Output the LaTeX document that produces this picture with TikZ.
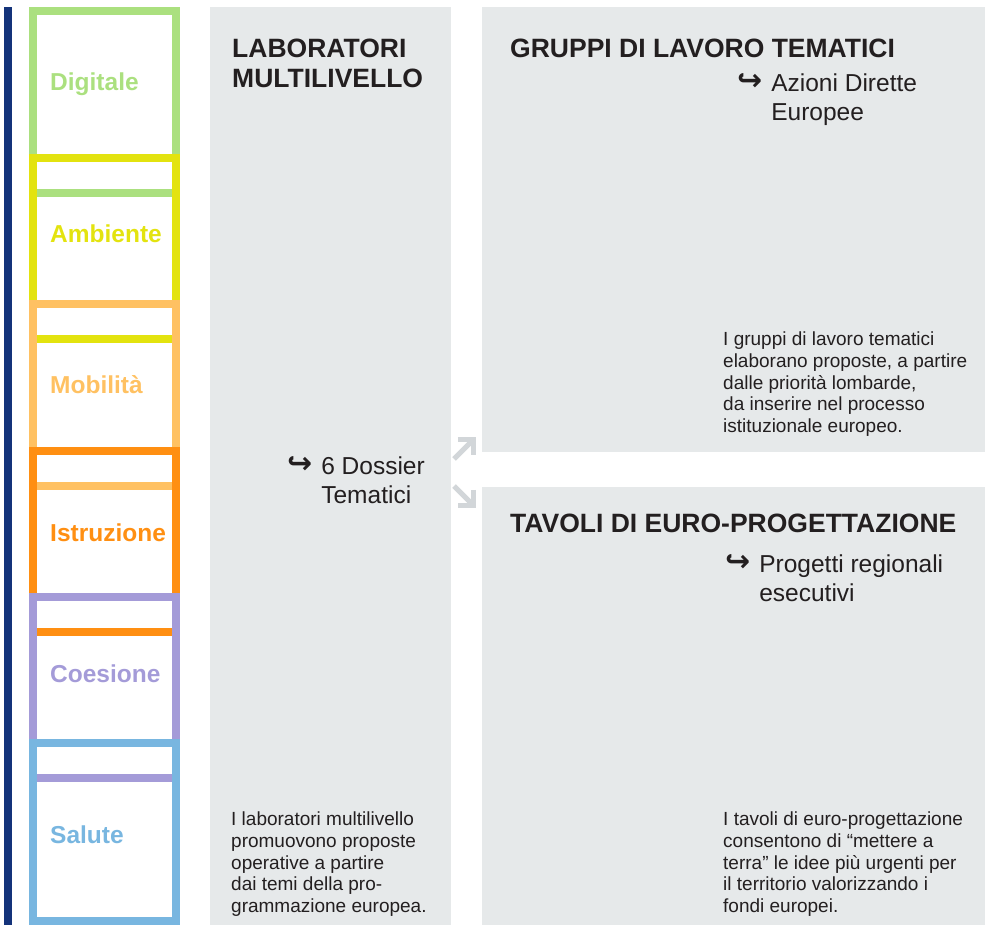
\documentclass[tikz,border=0pt]{standalone}
\usepackage{fontspec}
\setmainfont{Liberation Sans}
\newfontfamily\hookfont{DejaVu Sans}
\usetikzlibrary{arrows.meta}
\definecolor{navy}{HTML}{14337A}
\definecolor{panelgray}{HTML}{E6E9EA}
\definecolor{arrowgray}{HTML}{D2D6D9}
\definecolor{inkdark}{HTML}{231F20}
\definecolor{digitalegreen}{HTML}{ABE07F}
\definecolor{ambienteyellow}{HTML}{E3E30F}
\definecolor{mobilitaorange}{HTML}{FFC162}
\definecolor{istruzioneorange}{HTML}{FF8F12}
\definecolor{coesionepurple}{HTML}{A49BD8}
\definecolor{saluteblue}{HTML}{78B6E0}
\newcommand{\hook}{{\hookfont\bfseries\fontsize{30}{29}\selectfont\raisebox{1pt}{↪}}}

\begin{document}
\begin{tikzpicture}[x=1pt, y=-1pt,
  theme/.style={line width=8pt},
  theme label/.style={anchor=base west, inner sep=0pt, font=\fontsize{24.5}{24}\selectfont\bfseries},
  heading/.style={anchor=north west, inner sep=0pt, align=left, text=inkdark, font=\fontsize{26.5}{30}\selectfont\bfseries},
  outcome/.style={anchor=base west, inner sep=0pt, text=inkdark, font=\fontsize{24.5}{29}\selectfont},
  blurb/.style={anchor=north west, inner sep=0pt, align=left, text=inkdark, font=\fontsize{19}{21.6}\selectfont},
  flow/.style={arrowgray, line width=5pt, -{Straight Barb[length=11pt, width=22pt]}}]
  \useasboundingbox (0,0) rectangle (985,925);
  \fill[navy] (4,7) rectangle (12,925);
  \fill[panelgray] (210,7) rectangle (451,925);
  \fill[panelgray] (482,7) rectangle (985,452);
  \fill[panelgray] (482,487) rectangle (985,925);
  \draw[theme, digitalegreen] (33,11) rectangle (176,193);
  \draw[theme, ambienteyellow] (33,158) rectangle (176,339);
  \draw[theme, mobilitaorange] (33,304) rectangle (176,486);
  \draw[theme, istruzioneorange] (33,451) rectangle (176,632);
  \draw[theme, coesionepurple] (33,597) rectangle (176,778);
  \draw[theme, saluteblue] (33,743) rectangle (176,921);
  \node[theme label, text=digitalegreen] (digitale) at (50,91) {Digitale};
  \node[theme label, text=ambienteyellow] (ambiente) at (50,243) {Ambiente};
  \node[theme label, text=mobilitaorange] (mobilita) at (50,393) {Mobilità};
  \node[theme label, text=istruzioneorange] (istruzione) at (50,541) {Istruzione};
  \node[theme label, text=coesionepurple] (coesione) at (50,682) {Coesione};
  \node[theme label, text=saluteblue] (salute) at (50,843) {Salute};
  \node[heading] (laboratori) at (232,39) {LABORATORI\\MULTILIVELLO};
  \node[heading] (gruppi) at (510,39) {GRUPPI DI LAVORO TEMATICI};
  \node[heading] (tavoli) at (510,514) {TAVOLI DI EURO-PROGETTAZIONE};
  \node[outcome] (dossier) at (287,474) {\begin{tabular}[t]{@{}l@{\hspace{9pt}}l@{}}\hook & 6 Dossier\\ & Tematici\end{tabular}};
  \node[outcome] (azioni) at (737,92) {\begin{tabular}[t]{@{}l@{\hspace{9pt}}l@{}}\hook & Azioni Dirette\\ & Europee\end{tabular}};
  \node[outcome] (progetti) at (725,572) {\begin{tabular}[t]{@{}l@{\hspace{9pt}}l@{}}\hook & Progetti regionali\\ & esecutivi\end{tabular}};
  \node[blurb] (laboratoritext) at (231,812) {I laboratori multilivello\\promuovono proposte\\operative a partire\\dai temi della pro-\\grammazione europea.};
  \node[blurb] (gruppitext) at (723,332) {I gruppi di lavoro tematici\\elaborano proposte, a partire\\dalle priorità lombarde,\\da inserire nel processo\\istituzionale europeo.};
  \node[blurb] (tavolitext) at (723,812) {I tavoli di euro-progettazione\\consentono di “mettere a\\terra” le idee più urgenti per\\il territorio valorizzando i\\fondi europei.};
  \coordinate (upstart) at (454,459);
  \coordinate (upend) at (476,437);
  \draw[flow] (upstart) -- (upend);
  \coordinate (downstart) at (454,486);
  \coordinate (downend) at (476,508);
  \draw[flow] (downstart) -- (downend);
\end{tikzpicture}
\end{document}
